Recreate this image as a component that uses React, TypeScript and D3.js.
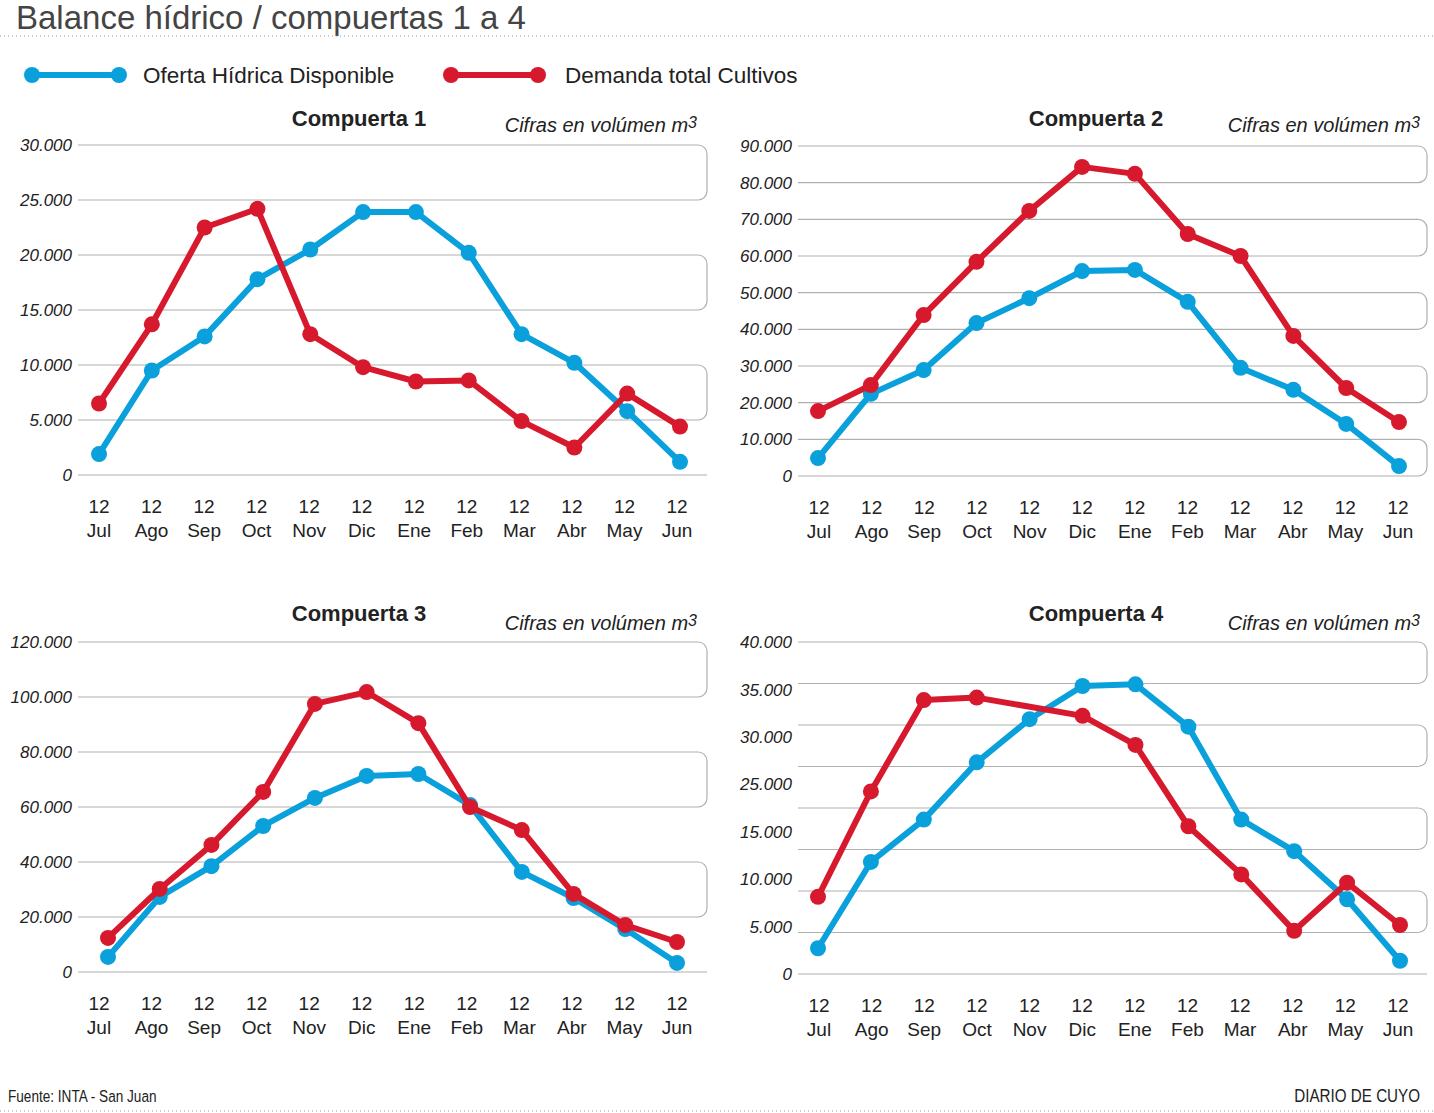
import React from "react";
import * as d3 from "d3";

const months = ["Jul", "Ago", "Sep", "Oct", "Nov", "Dic", "Ene", "Feb", "Mar", "Abr", "May", "Jun"];
const yearLabel = "12";

const oferta1 = [1900, 9500, 12600, 17800, 20500, 23900, 23900, 20200, 12800, 10200, 5800, 1200];
const demanda1 = [6500, 13700, 22500, 24200, 12800, 9800, 8500, 8600, 4900, 2500, 7400, 4400];

const oferta2 = [4900, 22400, 28900, 41700, 48500, 55900, 56200, 47500, 29500, 23500, 14200, 2700];
const demanda2 = [17700, 24800, 43900, 58400, 72300, 84300, 82400, 66000, 60000, 38200, 24000, 14700];

const oferta3 = [5500, 27300, 38500, 53100, 63300, 71300, 72000, 60700, 36400, 26900, 15600, 3300];
const demanda3 = [12400, 30200, 46200, 65500, 97500, 101800, 90500, 60000, 51600, 28400, 17100, 10900];

const oferta4 = [3100, 13500, 18600, 25500, 30700, 34700, 34900, 29800, 18600, 14800, 9000, 1600];
const demanda4: (number | null)[] = [9300, 22000, 33000, 33300, null, 31100, 27600, 17800, 12000, 5200, 11000, 5900];

const ticks1 = ["30.000", "25.000", "20.000", "15.000", "10.000", "5.000", "0"];
const ticks2 = ["90.000", "80.000", "70.000", "60.000", "50.000", "40.000", "30.000", "20.000", "10.000", "0"];
const ticks3 = ["120.000", "100.000", "80.000", "60.000", "40.000", "20.000", "0"];
const ticks4 = ["40.000", "35.000", "30.000", "25.000", "15.000", "10.000", "5.000", "0"];

const titles = ["Compuerta 1", "Compuerta 2", "Compuerta 3", "Compuerta 4"];
const legendLabels = ["Oferta Hídrica Disponible", "Demanda total Cultivos"];

const BLUE = "#0aa0dc";
const RED = "#d7192e";
const GRID = "#b0b0b0";
const FONT = "'Liberation Sans', Arial, Helvetica, sans-serif";

type PanelCfg = {
  title: string;
  oferta: (number | null)[];
  demanda: (number | null)[];
  tickLabels: string[];
  max: number;
  gridCount: number;
  x0: number;
  x1: number;
  yTop: number;
  yBot: number;
  pointRange: [number, number];
  labelRange: [number, number];
  titleX: number;
  titleY: number;
  noteX: number;
  noteY: number;
};

const panels: PanelCfg[] = [
  { title: titles[0], oferta: oferta1, demanda: demanda1, tickLabels: ticks1, max: 30000, gridCount: 6,
    x0: 78, x1: 707, yTop: 145, yBot: 475, pointRange: [99, 680], labelRange: [99, 677],
    titleX: 359, titleY: 126, noteX: 697, noteY: 132 },
  { title: titles[1], oferta: oferta2, demanda: demanda2, tickLabels: ticks2, max: 90000, gridCount: 9,
    x0: 798, x1: 1427, yTop: 146, yBot: 476, pointRange: [818, 1399], labelRange: [819, 1398],
    titleX: 1096, titleY: 126, noteX: 1420, noteY: 132 },
  { title: titles[2], oferta: oferta3, demanda: demanda3, tickLabels: ticks3, max: 120000, gridCount: 6,
    x0: 78, x1: 707, yTop: 642, yBot: 972, pointRange: [108, 677], labelRange: [99, 677],
    titleX: 359, titleY: 621, noteX: 697, noteY: 630 },
  { title: titles[3], oferta: oferta4, demanda: demanda4, tickLabels: ticks4, max: 40000, gridCount: 8,
    x0: 798, x1: 1427, yTop: 642, yBot: 974, pointRange: [818, 1400], labelRange: [819, 1398],
    titleX: 1096, titleY: 621, noteX: 1420, noteY: 630 },
];

function Series({ values, color, x, y }: { values: (number | null)[]; color: string; x: d3.ScalePoint<string>; y: d3.ScaleLinear<number, number> }) {
  const pts = values
    .map((v, i) => (v == null ? null : ([x(months[i]) as number, y(v)] as [number, number])))
    .filter((p): p is [number, number] => p !== null);
  const line = d3.line<[number, number]>().x((d) => d[0]).y((d) => d[1]);
  return (
    <g>
      <path d={line(pts) || ""} fill="none" stroke={color} strokeWidth={6} strokeLinejoin="round" />
      {pts.map((p, i) => (
        <circle key={i} cx={p[0]} cy={p[1]} r={8} fill={color} />
      ))}
    </g>
  );
}

function Panel({ cfg }: { cfg: PanelCfg }) {
  const x = d3.scalePoint<string>().domain(months).range(cfg.pointRange);
  const xl = d3.scalePoint<string>().domain(months).range(cfg.labelRange);
  const y = d3.scaleLinear().domain([0, cfg.max]).range([cfg.yBot, cfg.yTop]);
  const step = cfg.max / cfg.gridCount;
  const gridVals = d3.range(cfg.gridCount + 1).map((i) => cfg.max - i * step);
  const labelPos = d3.scalePoint<string>().domain(cfg.tickLabels).range([cfg.yTop, cfg.yBot]);
  const r = 9;
  const bands: [number, number][] = [];
  for (let i = 0; i < cfg.gridCount; i += 2) bands.push([gridVals[i], gridVals[i + 1]]);
  const bandEdge = (idx: number) => idx < cfg.gridCount || cfg.gridCount % 2 === 1;
  return (
    <g>
      {gridVals.map((v, i) => (
        <line key={"g" + i} x1={cfg.x0} x2={bandEdge(i) ? cfg.x1 - r : cfg.x1} y1={y(v)} y2={y(v)} stroke={GRID} strokeWidth={1.2} />
      ))}
      {bands.map(([a, b], i) => {
        const ya = y(a);
        const yb = y(b);
        const p = d3.path();
        p.moveTo(cfg.x1 - r, ya);
        p.arcTo(cfg.x1, ya, cfg.x1, ya + r, r);
        p.lineTo(cfg.x1, yb - r);
        p.arcTo(cfg.x1, yb, cfg.x1 - r, yb, r);
        return <path key={"b" + i} d={p.toString()} fill="none" stroke={GRID} strokeWidth={1.2} />;
      })}
      {cfg.tickLabels.map((t) => (
        <text key={"t" + t} x={cfg.x0 - 6} y={labelPos(t) as number} dy="0.36em" textAnchor="end"
          fontStyle="italic" fontSize={17} fill="#222" fontFamily={FONT}>
          {t}
        </text>
      ))}
      {months.map((m) => (
        <g key={"m" + m}>
          <text x={xl(m) as number} y={cfg.yBot + 38} textAnchor="middle" fontSize={19} fill="#222" fontFamily={FONT}>{yearLabel}</text>
          <text x={xl(m) as number} y={cfg.yBot + 62} textAnchor="middle" fontSize={19} fill="#222" fontFamily={FONT}>{m}</text>
        </g>
      ))}
      <Series values={cfg.oferta} color={BLUE} x={x} y={y} />
      <Series values={cfg.demanda} color={RED} x={x} y={y} />
      <text x={cfg.titleX} y={cfg.titleY} textAnchor="middle" fontWeight="bold" fontSize={22} fill="#222" fontFamily={FONT}>
        {cfg.title}
      </text>
      <text x={cfg.noteX} y={cfg.noteY} textAnchor="end" fontStyle="italic" fontSize={20} fill="#222" fontFamily={FONT}>
        Cifras en volúmen m<tspan fontSize={16} dy={-4}>3</tspan>
      </text>
    </g>
  );
}

export default function App() {
  return (
    <svg width={1434} height={1113} style={{ position: "absolute", left: 0, top: 0, background: "#fff" }}>
      <rect width={1434} height={1113} fill="#fff" />
      <text x={16} y={29} fontSize={33} fill="#444" fontFamily={FONT}>Balance hídrico / compuertas 1 a 4</text>
      <line x1={0} x2={1434} y1={36} y2={36} stroke="#999" strokeWidth={1} strokeDasharray="1 3" />
      <g>
        <line x1={32} x2={119} y1={75} y2={75} stroke={BLUE} strokeWidth={6} />
        <circle cx={32} cy={75} r={8} fill={BLUE} />
        <circle cx={119} cy={75} r={8} fill={BLUE} />
        <text x={143} y={83} fontSize={22.5} fill="#222" fontFamily={FONT}>{legendLabels[0]}</text>
        <line x1={451} x2={538} y1={75} y2={75} stroke={RED} strokeWidth={6} />
        <circle cx={451} cy={75} r={8} fill={RED} />
        <circle cx={538} cy={75} r={8} fill={RED} />
        <text x={565} y={83} fontSize={22.5} fill="#222" fontFamily={FONT}>{legendLabels[1]}</text>
      </g>
      {panels.map((p, i) => (
        <Panel key={i} cfg={p} />
      ))}
      <g transform="translate(8,1102) scale(0.8,1)">
        <text x={0} y={0} fontSize={17} fill="#222" fontFamily={FONT}>Fuente: INTA - San Juan</text>
      </g>
      <g transform="translate(1420,1102) scale(0.8,1)">
        <text x={0} y={0} textAnchor="end" fontSize={19} fill="#222" fontFamily={FONT}>DIARIO DE CUYO</text>
      </g>
      <line x1={0} x2={1434} y1={1111} y2={1111} stroke="#999" strokeWidth={1} strokeDasharray="1 3" />
    </svg>
  );
}
